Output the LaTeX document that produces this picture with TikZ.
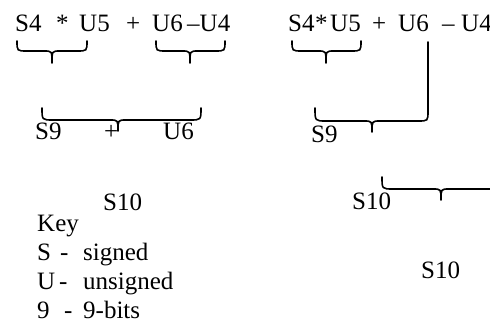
\documentclass[tikz,border=0pt]{standalone}
\usepackage{fontspec}
\setmainfont{Liberation Serif}
\begin{document}
\begin{tikzpicture}[x=1pt,y=-1pt,
  txt/.style={inner sep=0pt, anchor=base west, font=\fontsize{25}{29}\selectfont},
  brc/.style={line width=1.6pt, line cap=round, line join=round}]
\useasboundingbox (0,0) rectangle (490,323);
% ---------- left expression ----------
\node[txt] (a1) at (15,32) {S4};
\node[txt] (a2) at (56,32) {*};
\node[txt] (a3) at (79,32) {U5};
\node[txt] (a4) at (126,32) {+};
\node[txt] (a5) at (152,32) {U6};
\node[txt] (a6) at (187,32) {–U4};
% braces
\draw[brc] (17,41) .. controls (17,51) .. (27,51) -- (44,51) .. controls (52,51) .. (52,63)
  .. controls (52,51) .. (60,51) -- (77,51) .. controls (87,51) .. (87,41);
\draw[brc] (156,41) .. controls (156,51) .. (166,51) -- (182,51) .. controls (190,51) .. (190,63)
  .. controls (190,51) .. (198,51) -- (215,51) .. controls (225,51) .. (225,41);
\draw[brc] (42,108) .. controls (42,120) .. (53,120) -- (110,120) .. controls (118,120) .. (118,131)
  .. controls (118,120) .. (126,120) -- (190,120) .. controls (201,120) .. (201,108);
\node[txt] (b1) at (35,140) {S9};
\node[txt] (b2) at (104,140) {+};
\node[txt] (b3) at (163,140) {U6};
\node[txt] (c1) at (103,211) {S10};
% key
\node[txt] (k0) at (37,232) {Key};
\node[txt] (k1) at (37,260) {S};
\node[txt] (k1d) at (60,260) {-};
\node[txt] (k1t) at (83,260) {signed};
\node[txt] (k2) at (37,289) {U};
\node[txt] (k2d) at (59,289) {-};
\node[txt] (k2t) at (83,289) {unsigned};
\node[txt] (k3) at (37,318) {9};
\node[txt] (k3d) at (64,318) {-};
\node[txt] (k3t) at (83,318) {9-bits};
% ---------- right expression ----------
\node[txt] (r1) at (288,32) {S4};
\node[txt] (r2) at (315,32) {*};
\node[txt] (r3) at (330,32) {U5};
\node[txt] (r4) at (372,32) {+};
\node[txt] (r5) at (398,32) {U6};
\node[txt] (r6) at (442,32) {–};
\node[txt] (r7) at (461,32) {U4};
\draw[brc] (292,41) .. controls (292,51) .. (302,51) -- (318,51) .. controls (326,51) .. (326,63)
  .. controls (326,51) .. (334,51) -- (351,51) .. controls (361,51) .. (361,41);
\draw[brc] (315,108) .. controls (315,121) .. (326,121) -- (364,121) .. controls (372,121) .. (372,132)
  .. controls (372,121) .. (380,121) -- (418,121) .. controls (428,121) .. (428,111) -- (428,42);
\node[txt] (s1) at (311,143) {S9};
\begin{scope}
\clip (0,0) rectangle (490,323);
\draw[brc] (382,177) .. controls (382,189) .. (393,189) -- (433,189) .. controls (441,189) .. (441,200)
  .. controls (441,189) .. (449,189) -- (489,189) .. controls (500,189) .. (500,177);
\end{scope}
\node[txt] (s2) at (352,210) {S10};
\node[txt] (s3) at (421,279) {S10};
\end{tikzpicture}
\end{document}
